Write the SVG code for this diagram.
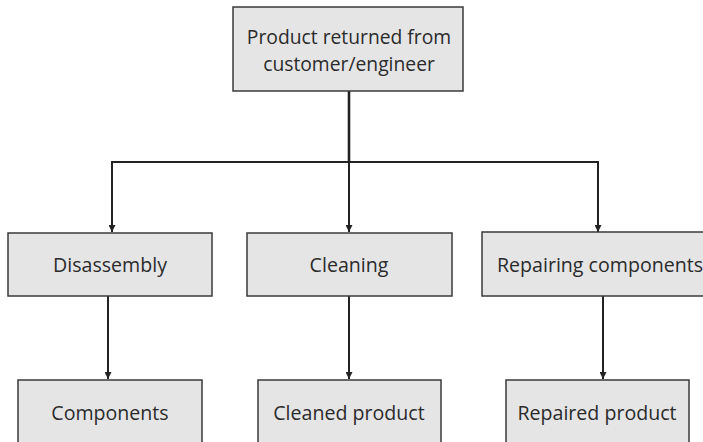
<svg xmlns="http://www.w3.org/2000/svg" width="703" height="442" viewBox="0 0 703 442">
  <style>
    .box { fill: #e5e5e6; stroke: #3a3a3a; stroke-width: 1.5; }
    .label { font-family: "Open Sans", "Noto Sans", sans-serif; font-size: 19.6px; fill: #2b2b2b; text-anchor: middle; }
    .title { font-size: 19.3px; }
    .wire { fill: none; stroke: #222; stroke-width: 2; }
    .trunk { fill: none; stroke: #222; stroke-width: 2.6; }
  </style>
  <defs>
    <marker id="arrow" viewBox="0 0 10 10" refX="10" refY="5" markerWidth="7" markerHeight="7" markerUnits="userSpaceOnUse" orient="auto">
      <path d="M0,0 L10,5 L0,10 Z" fill="#222"/>
    </marker>
  </defs>
  <rect width="703" height="442" fill="#ffffff"/>

  <g id="connectors">
    <path class="trunk" d="M349,91 V162"/>
    <path class="wire" d="M112,162 H598"/>
    <path class="wire" d="M112,161 V232" marker-end="url(#arrow)"/>
    <path class="wire" d="M349,162 V232" marker-end="url(#arrow)"/>
    <path class="wire" d="M598,161 V232" marker-end="url(#arrow)"/>
    <path class="wire" d="M108,296 V379" marker-end="url(#arrow)"/>
    <path class="wire" d="M349,296 V379" marker-end="url(#arrow)"/>
    <path class="wire" d="M603,296 V379" marker-end="url(#arrow)"/>
  </g>

  <g id="returned">
    <rect class="box" x="233" y="7" width="230" height="84"/>
    <text class="label title" x="349" y="44">Product returned from</text>
    <text class="label title" x="349" y="70.5">customer/engineer</text>
  </g>

  <g id="disassembly">
    <rect class="box" x="8" y="233" width="204" height="63"/>
    <text class="label" x="110" y="272">Disassembly</text>
  </g>

  <g id="cleaning">
    <rect class="box" x="247" y="233" width="205" height="63"/>
    <text class="label" x="349" y="272">Cleaning</text>
  </g>

  <g id="repairing">
    <rect class="box" x="482" y="232" width="236" height="64"/>
    <text class="label" x="600" y="272">Repairing components</text>
  </g>

  <g id="components">
    <rect class="box" x="18" y="380" width="184" height="70"/>
    <text class="label" x="110" y="420">Components</text>
  </g>

  <g id="cleaned">
    <rect class="box" x="258" y="380" width="183" height="70"/>
    <text class="label" x="349" y="420">Cleaned product</text>
  </g>

  <g id="repaired">
    <rect class="box" x="506" y="380" width="183" height="70"/>
    <text class="label" x="597" y="420">Repaired product</text>
  </g>
</svg>
